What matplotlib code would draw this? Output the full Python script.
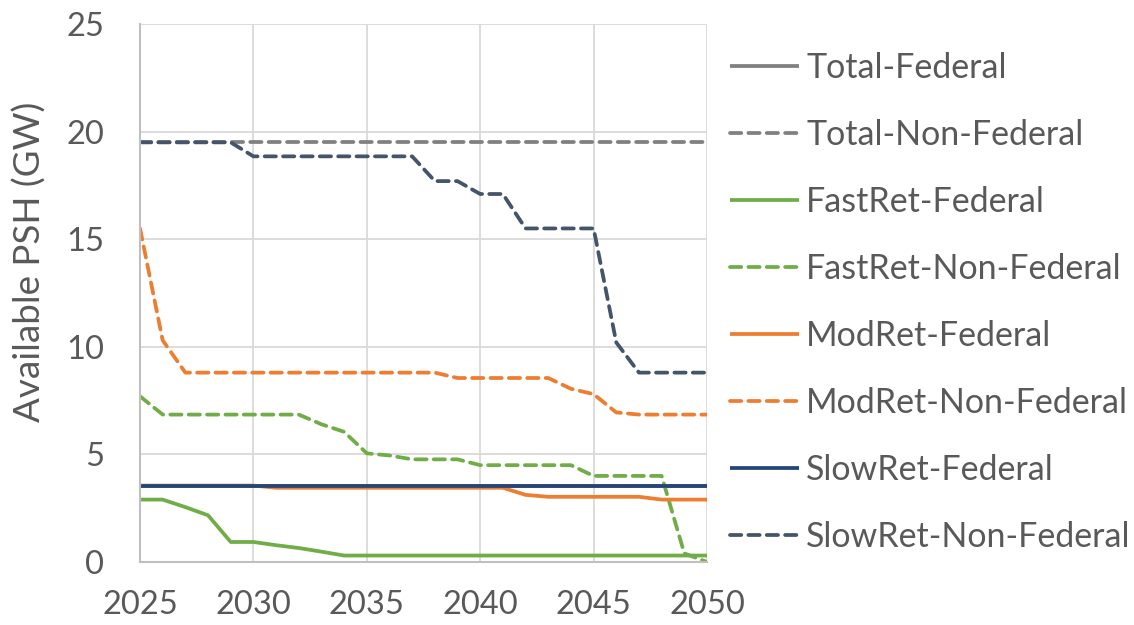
import numpy as np
import matplotlib.pyplot as plt

plt.rcParams['font.family'] = ['Lato', 'DejaVu Sans']

# ----- data (GW of pumped storage available by year) -----
years = np.arange(2025, 2051)

total_federal = [3.55] * 26
total_non_federal = [19.5] * 26
fastret_federal = [2.9, 2.9, 2.55, 2.17, 0.93, 0.93, 0.78, 0.65, 0.48] + [0.3] * 17
fastret_non_federal = ([7.7] + [6.85] * 7 + [6.4, 6.05, 5.05, 4.95] + [4.77] * 3
                       + [4.5] * 5 + [4.0] * 4 + [0.4, 0.0])
modret_federal = [3.55] * 6 + [3.45] * 11 + [3.12] + [3.03] * 5 + [2.9] * 3
modret_non_federal = ([15.5, 10.3] + [8.8] * 12 + [8.55] * 5
                      + [8.05, 7.8, 6.95] + [6.85] * 4)
slowret_federal = [3.55] * 26
slowret_non_federal = ([19.5] * 5 + [18.85] * 8 + [17.7] * 2 + [17.1] * 2
                       + [15.5] * 4 + [10.2] + [8.8] * 4)

series = [
    ("Total-Federal", total_federal, "#808080", "-"),
    ("Total-Non-Federal", total_non_federal, "#808080", "--"),
    ("FastRet-Federal", fastret_federal, "#70AD47", "-"),
    ("FastRet-Non-Federal", fastret_non_federal, "#70AD47", "--"),
    ("ModRet-Federal", modret_federal, "#ED7D31", "-"),
    ("ModRet-Non-Federal", modret_non_federal, "#ED7D31", "--"),
    ("SlowRet-Federal", slowret_federal, "#264478", "-"),
    ("SlowRet-Non-Federal", slowret_non_federal, "#44546A", "--"),
]

text_color = "#595959"

fig = plt.figure(figsize=(11.34, 6.25), dpi=100)
ax = fig.add_axes([140 / 1134, 1 - 562 / 625, 567 / 1134, 538 / 625])

for label, vals, color, ls in series:
    if ls == "--":
        ax.plot(years, vals, color=color, lw=2.7, linestyle=(0, (3.0, 1.9)),
                dash_capstyle="round", label=label)
    else:
        ax.plot(years, vals, color=color, lw=2.7, label=label,
                solid_capstyle="butt")

ax.set_xlim(2025, 2050)
ax.set_ylim(0, 25)
ax.set_xticks(range(2025, 2051, 5))
ax.set_yticks(range(0, 26, 5))
ax.grid(True, color="#d9d9d9", lw=1.3)
ax.set_axisbelow(True)
for side in ["top", "right"]:
    ax.spines[side].set_visible(False)
for side in ["left", "bottom"]:
    ax.spines[side].set_color("#bfbfbf")
    ax.spines[side].set_linewidth(1.5)
ax.tick_params(length=0, labelsize=23.5, colors=text_color)
ax.tick_params(axis="y", pad=26)
ax.tick_params(axis="x", pad=20)

fig.text(30 / 1134, 1 - 262 / 625, "Available PSH (GW)", rotation=90,
         ha="center", va="center", fontsize=26.5, color=text_color)

leg = fig.legend(loc="upper left", bbox_to_anchor=(716 / 1134, 1 - 38 / 625),
                 frameon=False, fontsize=24.5, handlelength=2.05,
                 handletextpad=0.2, labelspacing=1.03, borderaxespad=0)
for t in leg.get_texts():
    t.set_color(text_color)

fig.savefig("out.png", dpi=100)
